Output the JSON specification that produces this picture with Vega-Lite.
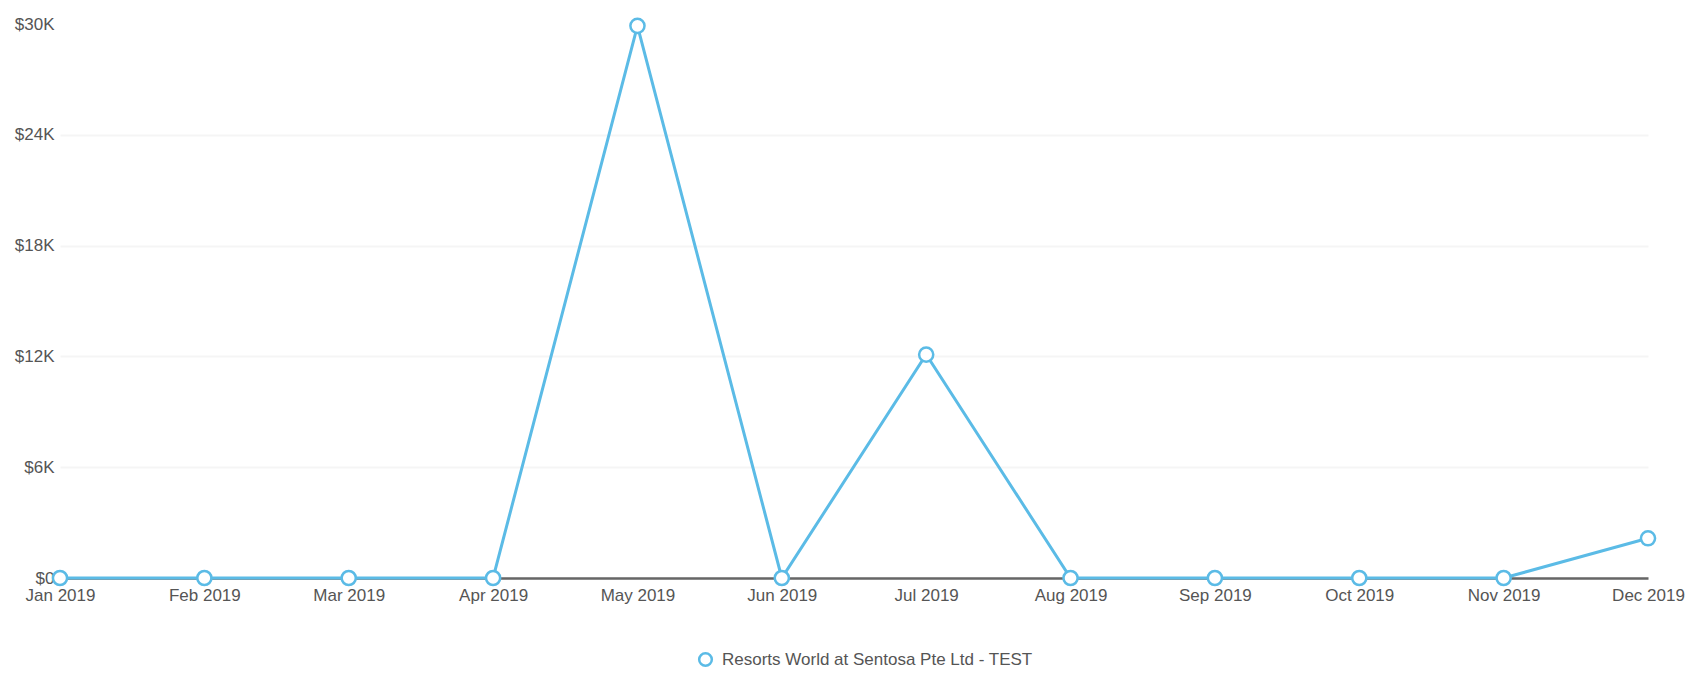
{
  "$schema": "https://vega.github.io/schema/vega-lite/v6.json",
  "width": 1588,
  "height": 554,
  "autosize": {"type": "none"},
  "padding": {"left": 60, "top": 24, "right": 40, "bottom": 96},
  "background": "white",
  "config": {
    "view": {"stroke": null},
    "font": "Liberation Sans",
    "axis": {"labelFont": "Liberation Sans", "labelFontSize": 17, "labelColor": "#555555"},
    "legend": {"labelFont": "Liberation Sans", "labelFontSize": 17, "labelColor": "#555555"}
  },
  "data": {
    "values": [
      {"month": "Jan 2019", "value": 0, "series": "Resorts World at Sentosa Pte Ltd - TEST"},
      {"month": "Feb 2019", "value": 0, "series": "Resorts World at Sentosa Pte Ltd - TEST"},
      {"month": "Mar 2019", "value": 0, "series": "Resorts World at Sentosa Pte Ltd - TEST"},
      {"month": "Apr 2019", "value": 0, "series": "Resorts World at Sentosa Pte Ltd - TEST"},
      {"month": "May 2019", "value": 29900, "series": "Resorts World at Sentosa Pte Ltd - TEST"},
      {"month": "Jun 2019", "value": 0, "series": "Resorts World at Sentosa Pte Ltd - TEST"},
      {"month": "Jul 2019", "value": 12100, "series": "Resorts World at Sentosa Pte Ltd - TEST"},
      {"month": "Aug 2019", "value": 0, "series": "Resorts World at Sentosa Pte Ltd - TEST"},
      {"month": "Sep 2019", "value": 0, "series": "Resorts World at Sentosa Pte Ltd - TEST"},
      {"month": "Oct 2019", "value": 0, "series": "Resorts World at Sentosa Pte Ltd - TEST"},
      {"month": "Nov 2019", "value": 0, "series": "Resorts World at Sentosa Pte Ltd - TEST"},
      {"month": "Dec 2019", "value": 2150, "series": "Resorts World at Sentosa Pte Ltd - TEST"}
    ]
  },
  "encoding": {
    "x": {
      "field": "month", "type": "ordinal", "sort": null,
      "scale": {"type": "point", "padding": 0},
      "axis": {"title": null, "labelAngle": 0, "ticks": false, "domainColor": "#666666", "domainWidth": 2.5, "labelPadding": 9, "grid": false}
    },
    "y": {
      "field": "value", "type": "quantitative",
      "scale": {"domain": [0, 30000], "nice": false},
      "axis": {
        "title": null, "values": [0, 6000, 12000, 18000, 24000, 30000],
        "labelExpr": "datum.value == 0 ? '$0' : '$' + (datum.value/1000) + 'K'",
        "domain": false, "ticks": false, "labelPadding": 6,
        "gridColor": "#f5f5f5", "gridWidth": 2,
        "gridOpacity": {"condition": {"test": "datum.value == 30000", "value": 0}, "value": 1}
      }
    },
    "color": {
      "field": "series", "type": "nominal",
      "scale": {"range": ["#5bbbe6"]},
      "legend": {"title": null, "orient": "none", "legendX": 637, "legendY": 627, "labelLimit": 0, "symbolType": "circle", "symbolFillColor": "white", "symbolStrokeWidth": 2.5, "symbolSize": 160, "labelOffset": 8}
    }
  },
  "layer": [
    {"mark": {"type": "line", "strokeWidth": 3}},
    {"mark": {"type": "point", "filled": false, "fill": "white", "fillOpacity": 1, "strokeWidth": 2.5, "size": 200, "opacity": 1}}
  ]
}
